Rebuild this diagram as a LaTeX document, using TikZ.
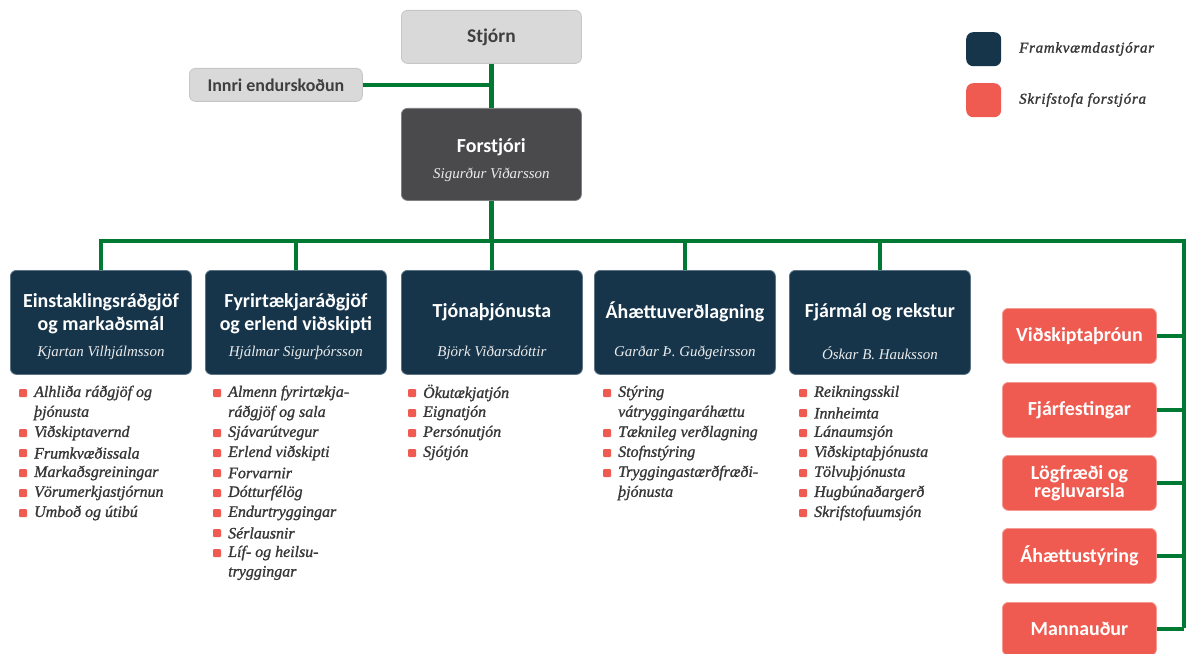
\documentclass[tikz,border=0pt]{standalone}
\usepackage{fontspec}
\setmainfont{Liberation Serif}
\newfontfamily\headfont{Carlito}
\newfontfamily\serfont{Liberation Serif}
\usetikzlibrary{calc}
\definecolor{navy}{HTML}{16354B}
\definecolor{navyedge}{HTML}{5C7383}
\definecolor{boss}{HTML}{4A4A4C}
\definecolor{lgray}{HTML}{D9D9D9}
\definecolor{lgedge}{HTML}{C6C6C6}
\definecolor{redbox}{HTML}{EF5B50}
\definecolor{redge}{HTML}{F39A92}
\definecolor{conngreen}{HTML}{007A33}
\definecolor{txtgray}{HTML}{363636}
\definecolor{headgray}{HTML}{3F3F3F}
\tikzset{
  x=1bp, y=-1bp,
  box/.style={rounded corners=6bp, inner sep=0pt, anchor=north west},
  graybox/.style={box, fill=lgray, draw=lgedge, line width=0.8bp, text=headgray},
  bossbox/.style={box, fill=boss, draw=boss!70!white, line width=0.8bp},
  dbox/.style={box, fill=navy, draw=navyedge, line width=0.8bp, minimum width=181bp, minimum height=104bp},
  rbox/.style={box, fill=redbox, draw=redge, line width=0.8bp, minimum width=154bp, minimum height=55bp,
     text=white, align=center, font=\headfont\bfseries\fontsize{20}{18}\selectfont},
  htext/.style={text=white, align=center, inner sep=0pt, font=\headfont\bfseries\fontsize{20}{23}\selectfont},
  ntext/.style={text=white!92!black, inner sep=0pt, font=\serfont\itshape\fontsize{15}{17}\selectfont},
  itm/.style={anchor=west, inner sep=0pt, text=txtgray, font=\serfont\itshape\fontsize{16}{18}\selectfont\addfontfeatures{FakeBold=1.2}},
  bul/.style={fill=redbox, inner sep=0pt, minimum size=8bp, rounded corners=1bp},
  conn/.style={draw=conngreen, line width=4.5bp},
  legsq/.style={box, minimum width=35bp, minimum height=34bp, rounded corners=7bp},
  legtext/.style={anchor=west, inner sep=0pt, text=txtgray, font=\serfont\itshape\fontsize{15}{17}\selectfont\addfontfeatures{LetterSpace=5,FakeBold=1.5}},
}
\newcommand\itm[3]{\node[bul] (bu#1-#2) at (#1-11,#2) {}; \node[itm] (it#1-#2) at (#1,#2) {#3};}
\newcommand\cnt[3]{\node[itm] (it#1-#2) at (#1,#2) {#3};}
\begin{document}
\begin{tikzpicture}
\useasboundingbox (0,0) rectangle (1188,654);
% top
\node[graybox, minimum width=180bp, minimum height=53bp, font=\headfont\bfseries\fontsize{19.5}{21}\selectfont] (stjorn) at (401,10) {Stjórn};
\node[graybox, minimum width=173bp, minimum height=33bp, font=\headfont\bfseries\fontsize{18}{20}\selectfont] (innri) at (189,68) {Innri endurskoðun};
\node[bossbox, minimum width=180bp, minimum height=92bp] (forst) at (401,108) {};
\node[htext] (forstT) at ($(forst.north)+(0,39)$) {Forstjóri};
\node[ntext] (forstN) at ($(forst.north)+(0,67)$) {Sigurður Viðarsson};
% bus coordinates
\coordinate (busL) at (99,241);
\coordinate (busR) at (1184,241);
\coordinate (busB) at (1184,628);
% division boxes
\node[dbox] (d1) at (10,270) {};
\node[dbox] (d2) at (205,270) {};
\node[dbox] (d3) at (401,270) {};
\node[dbox] (d4) at (594,270) {};
\node[dbox] (d5) at (789,270) {};
\node[htext] (d1T) at ($(d1.north)+(0,44)$) {Einstaklingsráðgjöf\\og markaðsmál};
\node[htext] (d2T) at ($(d2.north)+(0,44)$) {Fyrirtækjaráðgjöf\\og erlend viðskipti};
\node[htext] (d3T) at ($(d3.north)+(0,42)$) {Tjónaþjónusta};
\node[htext] (d4T) at ($(d4.north)+(0,42)$) {Áhættuverðlagning};
\node[htext] (d5T) at ($(d5.north)+(0,42)$) {Fjármál og rekstur};
\node[ntext] (d1N) at ($(d1.north)+(0,83)$) {Kjartan Vilhjálmsson};
\node[ntext] (d2N) at ($(d2.north)+(0,83)$) {Hjálmar Sigurþórsson};
\node[ntext] (d3N) at ($(d3.north)+(0,83)$) {Björk Viðarsdóttir};
\node[ntext] (d4N) at ($(d4.north)+(0,83)$) {Garðar Þ. Guðgeirsson};
\node[ntext] (d5N) at ($(d5.north)+(0,83)$) {Óskar B. Hauksson};
% red boxes
\node[rbox] (r1) at (1002,308) {Viðskiptaþróun};
\node[rbox] (r2) at (1002,382) {Fjárfestingar};
\node[rbox] (r3) at (1002,455) {Lögfræði og\\regluvarsla};
\node[rbox] (r4) at (1002,528) {Áhættustýring};
\node[rbox, minimum height=53bp] (r5) at (1002,602) {Mannauður};
% connectors
\draw[conn] (stjorn.south) -- (forst.north);
\draw[conn] (innri.east) -- (innri.east -| stjorn.south);
\draw[conn] (forst.south) -- (forst.south |- busL);
\draw[conn, line join=miter] (busL) -- (busR) -- (busB);
\foreach \d in {d1,d2,d3,d4,d5}{\draw[conn] (\d.north) -- (\d.north |- busL);}
\foreach \r in {r1,r2,r3,r4,r5}{\draw[conn] (\r.east) -- (\r.east -| busR);}
% items column 1
\itm{34}{393}{Alhliða ráðgjöf og}
\cnt{34}{413}{þjónusta}
\itm{34}{433}{Viðskiptavernd}
\itm{34}{453}{Frumkvæðissala}
\itm{34}{473}{Markaðsgreiningar}
\itm{34}{493}{Vörumerkjastjórnun}
\itm{34}{513}{Umboð og útibú}
% column 2
\itm{228}{393}{Almenn fyrirtækja-}
\cnt{228}{413}{ráðgjöf og sala}
\itm{228}{433}{Sjávarútvegur}
\itm{228}{453}{Erlend viðskipti}
\itm{228}{473}{Forvarnir}
\itm{228}{493}{Dótturfélög}
\itm{228}{513}{Endurtryggingar}
\itm{228}{533}{Sérlausnir}
\itm{228}{553}{Líf- og heilsu-}
\cnt{228}{573}{tryggingar}
% column 3
\itm{423}{393}{Ökutækjatjón}
\itm{423}{413}{Eignatjón}
\itm{423}{433}{Persónutjón}
\itm{423}{453}{Sjótjón}
% column 4
\itm{618}{393}{Stýring}
\cnt{618}{413}{vátryggingaráhættu}
\itm{618}{433}{Tæknileg verðlagning}
\itm{618}{453}{Stofnstýring}
\itm{618}{473}{Tryggingastærðfræði-}
\cnt{618}{493}{þjónusta}
% column 5
\itm{814}{393}{Reikningsskil}
\itm{814}{413}{Innheimta}
\itm{814}{433}{Lánaumsjón}
\itm{814}{453}{Viðskiptaþjónusta}
\itm{814}{473}{Tölvuþjónusta}
\itm{814}{493}{Hugbúnaðargerð}
\itm{814}{513}{Skrifstofuumsjón}
% legend
\node[legsq, fill=navy] (leg1) at (966,32) {};
\node[legsq, fill=redbox] (leg2) at (966,83) {};
\node[legtext] (leg1T) at (1019,49) {Framkvæmdastjórar};
\node[legtext] (leg2T) at (1019,100) {Skrifstofa forstjóra};
\end{tikzpicture}
\end{document}
